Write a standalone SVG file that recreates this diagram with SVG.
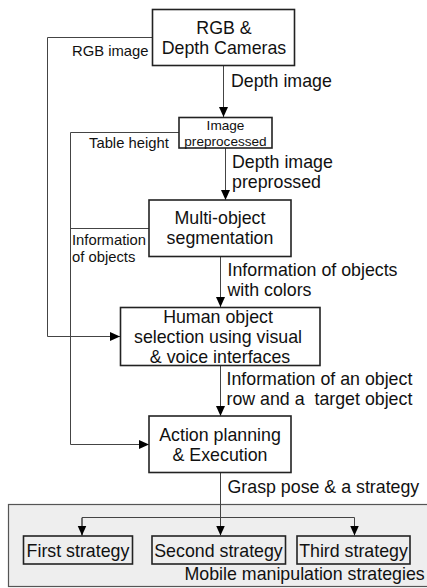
<svg xmlns="http://www.w3.org/2000/svg" width="427" height="588" viewBox="0 0 427 588">
  <defs>
    <marker id="arrow" viewBox="0 0 10 10" refX="10" refY="5" markerWidth="10" markerHeight="10" markerUnits="userSpaceOnUse" orient="auto">
      <path d="M0,0.5 L10,5 L0,9.5 Z" fill="#000"/>
    </marker>
    <style>
      text { font-family: "Liberation Sans", Arial, sans-serif; fill: #111; }
      .big { font-size: 17.8px; }
      .small { font-size: 14.8px; }
      .tiny { font-size: 13.6px; }
      .box { fill: #fff; stroke: #222; stroke-width: 1.6; }
      .sbox { fill: none; stroke: #222; stroke-width: 1.6; }
      .line { fill: none; stroke: #444; stroke-width: 1; }
      .mid { text-anchor: middle; }
    </style>
  </defs>

  <!-- container for the three strategies -->
  <g id="strategies-panel">
    <rect x="8.5" y="504.5" width="425" height="82" fill="#eeeeee" stroke="#555" stroke-width="1.2"/>
    <text class="big" x="184.5" y="580">Mobile manipulation strategies</text>
  </g>

  <!-- connectors -->
  <g id="connectors">
    <path class="line" d="M152,37.5 H47.5 V336.5 H120" marker-end="url(#arrow)"/>
    <path class="line" d="M179,132.5 H70.5 V444.5 H149" marker-end="url(#arrow)"/>
    <path class="line" d="M149,228.5 H70.5"/>
    <path class="line" d="M223.5,66 V117" marker-end="url(#arrow)"/>
    <path class="line" d="M225.5,148 V200" marker-end="url(#arrow)"/>
    <path class="line" d="M220.5,257 V307" marker-end="url(#arrow)"/>
    <path class="line" d="M220.5,366 V416" marker-end="url(#arrow)"/>
    <path class="line" d="M220.5,473 V535.5" marker-end="url(#arrow)"/>
    <path class="line" d="M82,535.5 V517.5 H354.5 V535.5" marker-end="url(#arrow)"/>
    <path class="line" d="M82,518 V535.5" marker-end="url(#arrow)"/>

    <text class="small" x="72" y="56">RGB image</text>
    <text class="big" x="231" y="87">Depth image</text>
    <text class="small" x="89" y="148">Table height</text>
    <text class="big" x="232" y="168">Depth image</text>
    <text class="big" x="232" y="188">preprossed</text>
    <text class="small" x="72" y="245">Information</text>
    <text class="small" x="72" y="261.5">of objects</text>
    <text class="big" x="227.5" y="275.5">Information of objects</text>
    <text class="big" x="227.5" y="296">with colors</text>
    <text class="big" x="226.5" y="385">Information of an object</text>
    <text class="big" x="226.5" y="404.5" xml:space="preserve">row and a  target object</text>
    <text class="big" x="227.5" y="493">Grasp pose &amp; a strategy</text>
  </g>

  <g id="cameras">
    <rect class="box" x="152.5" y="9.5" width="142" height="56"/>
    <text class="big mid" x="224" y="33.5">RGB &amp;</text>
    <text class="big mid" x="224" y="53.5">Depth Cameras</text>
  </g>

  <g id="preprocess">
    <rect class="box" x="179" y="117.5" width="93" height="30.5"/>
    <text class="tiny mid" x="225.5" y="130">Image</text>
    <text class="tiny mid" x="225.5" y="145.5">preprocessed</text>
  </g>

  <g id="segmentation">
    <rect class="box" x="149" y="200" width="142" height="56.5"/>
    <text class="big mid" x="220" y="224">Multi-object</text>
    <text class="big mid" x="220" y="244">segmentation</text>
  </g>

  <g id="selection">
    <rect class="box" x="120.5" y="307.5" width="199.5" height="58"/>
    <text class="big mid" x="218" y="322.5">Human object</text>
    <text class="big mid" x="218" y="342.5">selection using visual</text>
    <text class="big mid" x="220" y="362.5">&amp; voice interfaces</text>
  </g>

  <g id="planning">
    <rect class="box" x="149" y="416" width="142" height="56.5"/>
    <text class="big mid" x="220" y="441">Action planning</text>
    <text class="big mid" x="220" y="461">&amp; Execution</text>
  </g>

  <g id="first-strategy">
    <rect class="sbox" x="23.5" y="536" width="109" height="28"/>
    <text class="big mid" x="78" y="557">First strategy</text>
  </g>

  <g id="second-strategy">
    <rect class="sbox" x="152" y="536" width="133.5" height="28"/>
    <text class="big mid" x="218.5" y="557">Second strategy</text>
  </g>

  <g id="third-strategy">
    <rect class="sbox" x="297" y="536" width="113" height="28"/>
    <text class="big mid" x="353.5" y="557">Third strategy</text>
  </g>
</svg>
